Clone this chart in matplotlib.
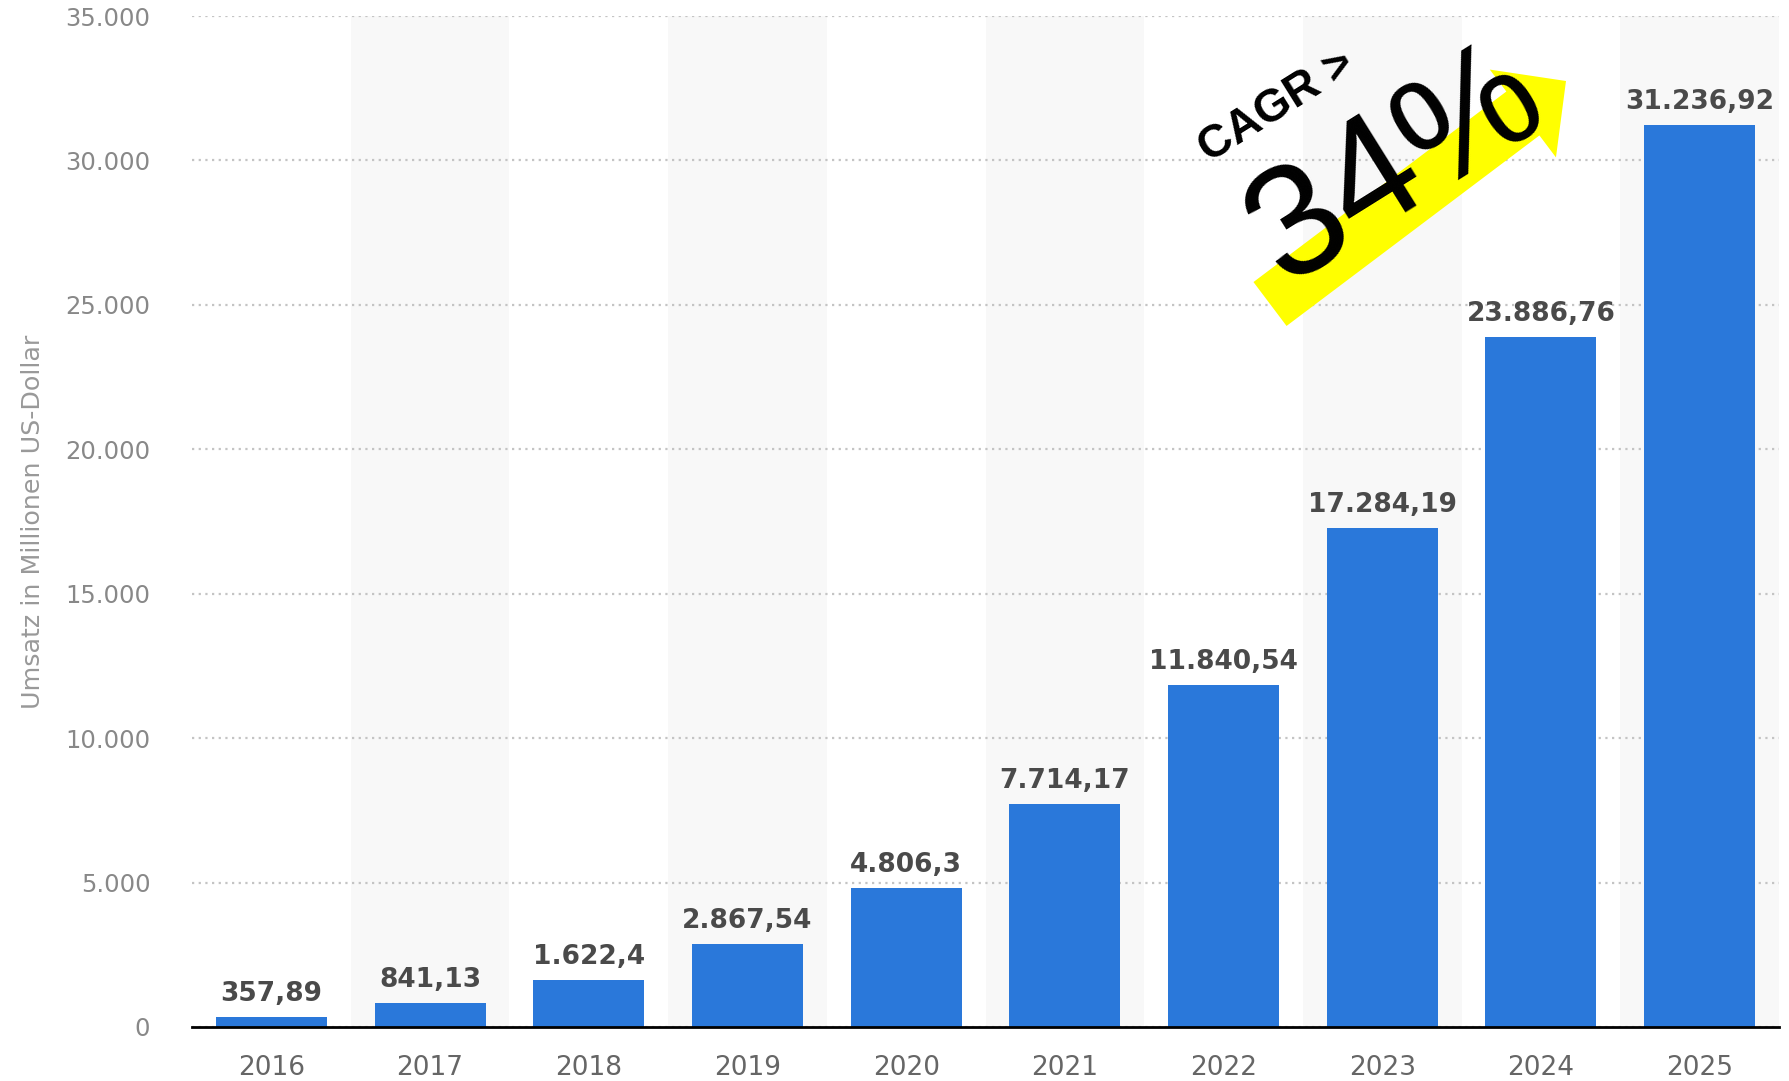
import matplotlib
matplotlib.use("Agg")
from matplotlib import pyplot as plt
from matplotlib.patches import FancyArrow
from matplotlib.ticker import FuncFormatter
import numpy as np


# data ····························································

years = ["2016", "2017", "2018", "2019", "2020",
         "2021", "2022", "2023", "2024", "2025"]
umsatz = [357.89, 841.13, 1622.4, 2867.54, 4806.3,
          7714.17, 11840.54, 17284.19, 23886.76, 31236.92]
yticks = [0, 5000, 10000, 15000, 20000, 25000, 30000, 35000]


def de_num(v, dec=2):
    # german number format: 1.234,56
    s = f"{v:,.{dec}f}"
    if dec > 0:
        s = s.rstrip("0").rstrip(".")
    return s.replace(",", "X").replace(".", ",").replace("X", ".")


# figure ··························································

W, H = 1790, 1081
fig = plt.figure(figsize=(W / 100, H / 100), dpi=100)
ax = fig.add_axes([192 / W, 1 - 1027 / H, (1779 - 192) / W, (1027 - 16) / H])

x = np.arange(len(years))

# alternating background bands
for i in x:
    if i % 2 == 1:
        ax.axvspan(i - 0.5, i + 0.5, color="#f8f8f8", zorder=0, lw=0)

ax.bar(x, umsatz, width=0.70, color="#2a78da", zorder=3)

for xi, v in zip(x, umsatz):
    ax.annotate(de_num(v), (xi, v), xytext=(0, 7), textcoords="offset points",
                ha="center", va="bottom", fontsize=19, fontweight="bold",
                color="#4a4a4a", zorder=4)

ax.set_xlim(-0.5, len(years) - 0.5)
ax.set_ylim(0, 35000)
ax.set_yticks(yticks)
ax.yaxis.set_major_formatter(FuncFormatter(lambda v, p: de_num(v, 0)))
ax.set_xticks(x)
ax.set_xticklabels(years)

ax.grid(axis="y", linestyle=(0, (1, 2)), color="#c4c4c4", linewidth=1.6, zorder=1)
ax.set_axisbelow(True)
for s in ["top", "right", "left"]:
    ax.spines[s].set_visible(False)
ax.spines["bottom"].set_color("black")
ax.spines["bottom"].set_linewidth(2)
ax.spines["bottom"].set_zorder(5)

ax.tick_params(axis="y", length=0, pad=30, labelsize=17.5, labelcolor="#888888")
ax.tick_params(axis="x", length=0, pad=20, labelsize=19, labelcolor="#666666")

ax.set_ylabel("Umsatz in Millionen US-Dollar", fontsize=18.3, color="#999999")
ax.yaxis.set_label_coords((45 - 192) / (1779 - 192), 0.5)

# CAGR annotation, overlay in pixel coordinates ···················

ov = fig.add_axes([0, 0, 1, 1])
ov.set_xlim(0, W)
ov.set_ylim(H, 0)
ov.axis("off")

arrow = FancyArrow(1270, 304, 296, -223, width=55, head_width=110,
                   head_length=54, length_includes_head=True,
                   color="#ffff00", lw=0)
ov.add_patch(arrow)

ov.text(1277, 107, "CAGR >", rotation=32, rotation_mode="anchor",
        ha="center", va="center", fontsize=33, fontweight="bold",
        family="Liberation Sans", color="black")
ov.text(1397, 167, "34%", rotation=32, rotation_mode="anchor",
        ha="center", va="center", fontsize=114,
        family="Liberation Sans", color="black")

fig.savefig("out.png", dpi=100)
plt.close()
